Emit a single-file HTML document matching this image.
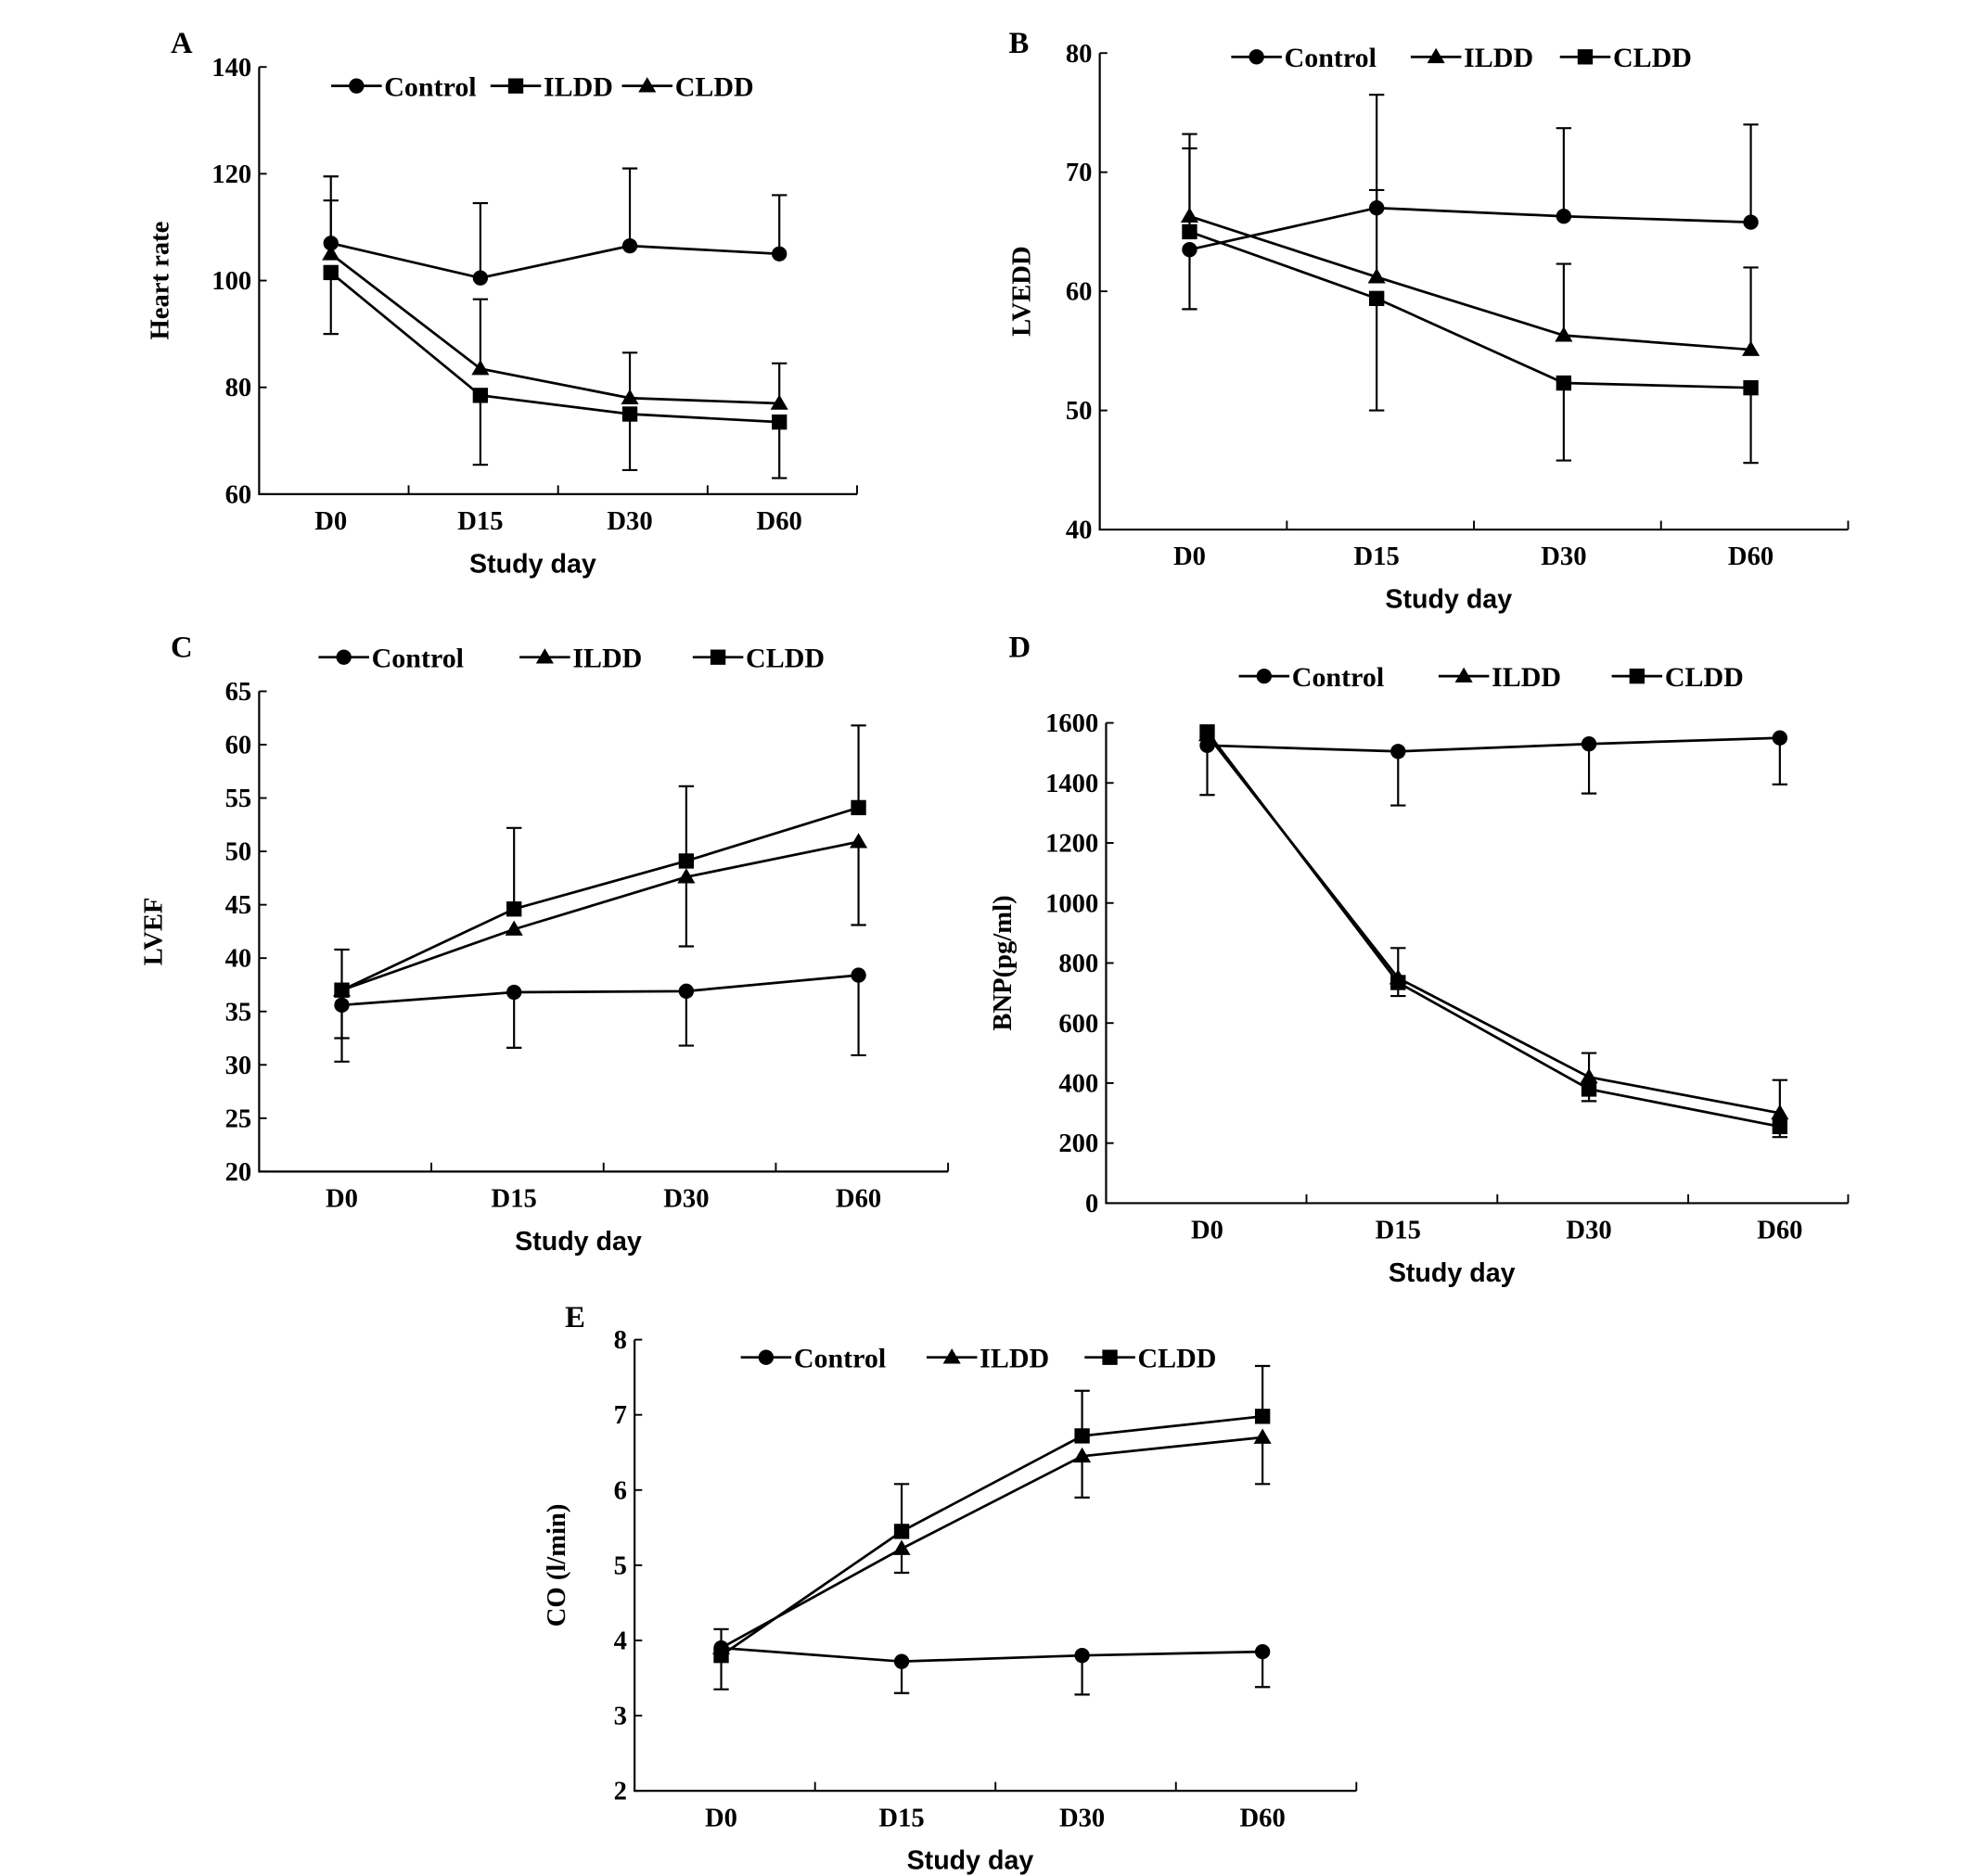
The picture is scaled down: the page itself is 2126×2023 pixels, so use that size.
<!DOCTYPE html>
<html><head><meta charset="utf-8"><style>
html,body{margin:0;padding:0;background:#fff;}
svg{display:block;}
.tk{font-family:"Liberation Serif",serif;font-weight:bold;font-size:21px;fill:#000;}
.lg{font-family:"Liberation Serif",serif;font-weight:bold;font-size:22px;fill:#000;}
.xt{font-family:"Liberation Sans",sans-serif;font-weight:bold;font-size:21px;fill:#000;}
.pl{font-family:"Liberation Serif",serif;font-weight:bold;font-size:24px;fill:#000;}
</style></head><body>
<svg id="fig" width="2126" height="2023" viewBox="0 0 1560 1484.4" preserveAspectRatio="none" xmlns="http://www.w3.org/2000/svg"></svg>
<script>
const categories = ["D0","D15","D30","D60"];
// Panel A - Heart rate
const aControl = [107,100.5,106.5,105];
const aILDD = [101.5,78.5,75,73.5];
const aCLDD = [105,83.5,78,77];
const aControlErr = [119.5,114.5,121,116];
const aILDDErr = [90,65.5,64.5,63];
const aCLDDErr = [115,96.5,86.5,84.5];
const aTicks = [60,80,100,120,140];
// Panel B - LVEDD
const bControl = [63.5,67,66.3,65.8];
const bILDD = [66.3,61.2,56.3,55.1];
const bCLDD = [65,59.4,52.3,51.9];
const bControlErr = [58.5,76.5,73.7,74];
const bILDDErr = [73.2,68.5,62.3,62];
const bCLDDErr = [72,50,45.8,45.6];
const bTicks = [40,50,60,70,80];
// Panel C - LVEF
const cControl = [35.6,36.8,36.9,38.4];
const cILDD = [37,42.7,47.6,50.9];
const cCLDD = [37,44.6,49.1,54.1];
const cControlErr = [30.3,31.6,31.8,30.9];
const cILDDErr = [32.5,null,41.1,43.1];
const cCLDDErr = [40.8,52.2,56.1,61.8];
const cTicks = [20,25,30,35,40,45,50,55,60,65];
// Panel D - BNP
const dControl = [1525,1505,1530,1550];
const dILDD = [1560,750,420,300];
const dCLDD = [1570,735,380,255];
const dControlErr = [1360,1325,1365,1395];
const dILDDErr = [null,850,500,410];
const dCLDDErr = [null,690,340,220];
const dTicks = [0,200,400,600,800,1000,1200,1400,1600];
// Panel E - CO
const eControl = [3.9,3.72,3.8,3.85];
const eILDD = [3.9,5.22,6.45,6.7];
const eCLDD = [3.8,5.45,6.72,6.98];
const eControlErr = [3.35,3.3,3.28,3.38];
const eILDDErr = [null,4.9,5.9,6.08];
const eCLDDErr = [4.15,6.08,7.32,7.65];
const eTicks = [2,3,4,5,6,7,8];

const svg = document.getElementById('fig');
const NS = 'http://www.w3.org/2000/svg';
function mk(tag, attrs, parent){const e=document.createElementNS(NS,tag);for(const k in attrs)e.setAttribute(k,attrs[k]);(parent||svg).appendChild(e);return e;}

function marker(g, shape, x, y){
  let m;
  if(shape==='circle') m=mk('circle',{cx:x,cy:y,r:6,fill:'#000'},g);
  else if(shape==='square') m=mk('rect',{x:x-6,y:y-6,width:12,height:12,fill:'#000'},g);
  else m=mk('polygon',{points:`${x},${y-7} ${x+7},${y+5} ${x-7},${y+5}`,fill:'#000'},g);
  return m;
}

function panel(p){
  const g=mk('g',{});
  
  
  const ymin=p.ticks[0], ymax=p.ticks[p.ticks.length-1];
  const Y=v=>p.y1-(p.y1-p.y0)*(v-ymin)/(ymax-ymin);
  const n=categories.length, cw=p.cw||(p.x1-p.x0)/n;
  const xs=p.xs||(p.x0+cw*0.48);
  const X=i=>xs+cw*i;
  const ax=mk('path',{d:`M${p.x0},${p.y0}V${p.y1}H${p.x1}`,stroke:'#000','stroke-width':1.6,fill:'none'},g);
  
  
  for(let i=1;i<=n;i++){const tx=(i===n)?p.x1:xs-cw*0.48+cw*i; mk('line',{x1:tx,x2:tx,y1:p.y1,y2:p.y1-7,stroke:'#000','stroke-width':1.4},g);}
  p.ticks.forEach(t=>{
    const y=Y(t);
    mk('line',{x1:p.x0,x2:p.x0+6,y1:y,y2:y,stroke:'#000','stroke-width':1.4},g);
    const tl=mk('text',{x:p.x0-6,y:y+7,'text-anchor':'end',class:'tk'},g);tl.textContent=t;
    
    
  });
  categories.forEach((c,i)=>{
    const tl=mk('text',{x:X(i),y:p.y1+28,'text-anchor':'middle',class:'tk'},g);tl.textContent=c;
    
    
  });
  const xt=mk('text',{x:(p.x0+p.x1)/2-20,y:p.y1+62,'text-anchor':'middle',class:'xt'},g);xt.textContent='Study day';
  
  
  const yc=(p.y0+p.y1)/2;
  const yt=mk('text',{x:p.ytx,y:yc,'text-anchor':'middle',class:'tk',transform:`rotate(-90 ${p.ytx} ${yc})`},g);yt.textContent=p.ytitle;
  
  
  const pl=mk('text',{x:p.lx,y:p.ly,class:'pl'},g);pl.textContent=p.id;
  
  
  p.series.forEach(s=>{
    const sg=mk('g',{},g);
    
    
    s.err.forEach((e,i)=>{ if(e==null) return;
      const x=X(i),y0=Y(s.vals[i]),y1=Y(e);
      mk('line',{x1:x,x2:x,y1:y0,y2:y1,stroke:'#000','stroke-width':1.6},sg);
      mk('line',{x1:x-6,x2:x+6,y1:y1,y2:y1,stroke:'#000','stroke-width':1.6},sg);
    });
    const ln=mk('polyline',{points:s.vals.map((v,i)=>X(i)+','+Y(v)).join(' '),fill:'none',stroke:'#000','stroke-width':2},sg);
    
    
    s.vals.forEach((v,i)=>{const m=marker(sg,s.shape,X(i),Y(v));
      
      });
  });
  p.legend.forEach(l=>{
    const lg=mk('g',{},g);
    
    
    mk('line',{x1:l.x,x2:l.x+40,y1:p.legy,y2:p.legy,stroke:'#000','stroke-width':2},lg);
    marker(lg,l.shape,l.x+20,p.legy);
    const t=mk('text',{x:l.x+42,y:p.legy+8,class:'lg'},lg);t.textContent=l.name;
  });
}

panel({id:'A',x0:205,x1:678,y0:53,y1:391,ticks:aTicks,ytitle:'Heart rate',ytx:133,lx:135,ly:42,legy:68,
  series:[{name:'Control',shape:'circle',vals:aControl,err:aControlErr},{name:'ILDD',shape:'square',vals:aILDD,err:aILDDErr},{name:'CLDD',shape:'triangle',vals:aCLDD,err:aCLDDErr}],
  legend:[{name:'Control',shape:'circle',x:262},{name:'ILDD',shape:'square',x:388},{name:'CLDD',shape:'triangle',x:492}]});
panel({id:'B',x0:870,x1:1462,y0:42,y1:419,ticks:bTicks,ytitle:'LVEDD',ytx:815,lx:798,ly:42,legy:45,
  series:[{name:'Control',shape:'circle',vals:bControl,err:bControlErr},{name:'ILDD',shape:'triangle',vals:bILDD,err:bILDDErr},{name:'CLDD',shape:'square',vals:bCLDD,err:bCLDDErr}],
  legend:[{name:'Control',shape:'circle',x:974},{name:'ILDD',shape:'triangle',x:1116},{name:'CLDD',shape:'square',x:1234}]});
panel({id:'C',x0:205,x1:750,y0:547,y1:927,ticks:cTicks,ytitle:'LVEF',ytx:128,lx:135,ly:520,legy:520,
  series:[{name:'Control',shape:'circle',vals:cControl,err:cControlErr},{name:'ILDD',shape:'triangle',vals:cILDD,err:cILDDErr},{name:'CLDD',shape:'square',vals:cCLDD,err:cCLDDErr}],
  legend:[{name:'Control',shape:'circle',x:252},{name:'ILDD',shape:'triangle',x:411},{name:'CLDD',shape:'square',x:548}]});
panel({id:'D',x0:875,x1:1462,xs:955,cw:151,y0:572,y1:952,ticks:dTicks,ytitle:'BNP(pg/ml)',ytx:800,lx:798,ly:520,legy:535,
  series:[{name:'Control',shape:'circle',vals:dControl,err:dControlErr},{name:'ILDD',shape:'triangle',vals:dILDD,err:dILDDErr},{name:'CLDD',shape:'square',vals:dCLDD,err:dCLDDErr}],
  legend:[{name:'Control',shape:'circle',x:980},{name:'ILDD',shape:'triangle',x:1138},{name:'CLDD',shape:'square',x:1275}]});
panel({id:'E',x0:502,x1:1073,y0:1060,y1:1417,ticks:eTicks,ytitle:'CO (l/min)',ytx:447,lx:447,ly:1050,legy:1074,
  series:[{name:'Control',shape:'circle',vals:eControl,err:eControlErr},{name:'ILDD',shape:'triangle',vals:eILDD,err:eILDDErr},{name:'CLDD',shape:'square',vals:eCLDD,err:eCLDDErr}],
  legend:[{name:'Control',shape:'circle',x:586},{name:'ILDD',shape:'triangle',x:733},{name:'CLDD',shape:'square',x:858}]});
</script>
</body></html>
